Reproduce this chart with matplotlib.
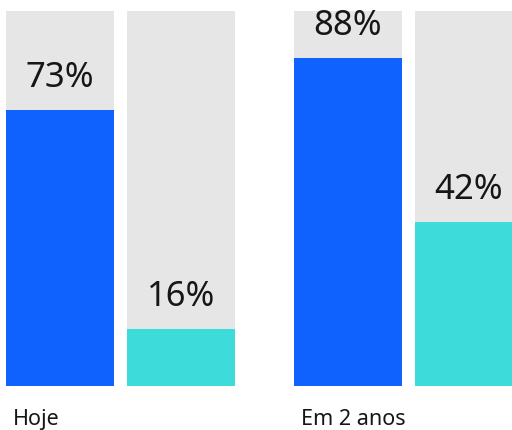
import matplotlib.pyplot as plt
from matplotlib.transforms import blended_transform_factory

# data
groups = ["Hoje", "Em 2 anos"]
series_a = [73.6, 87.5]   # blue bars
series_b = [15.2, 43.7]   # cyan bars
labels_a = ["73%", "88%"]
labels_b = ["16%", "42%"]

BLUE = "#0f62fe"
CYAN = "#3ddbd9"
GRAY = "#e6e6e6"
TEXT = "#161616"

plt.rcParams["font.family"] = ["Noto Sans", "DejaVu Sans"]

W, H = 512, 430
fig = plt.figure(figsize=(W / 100, H / 100), dpi=100)
# axes spans full width, bars from y=386px (bottom) to y=11px (top)
ax = fig.add_axes([0, 44 / H, 1, 375 / H])
ax.set_xlim(0, W)
ax.set_ylim(0, 100)
ax.axis("off")

bar_w = 108
inner_gap = 13
group_starts = [6, 294]

for gi, g in enumerate(groups):
    x0 = group_starts[gi]
    for bi, (vals, labs, col) in enumerate([(series_a, labels_a, BLUE),
                                            (series_b, labels_b, CYAN)]):
        left = x0 + bi * (bar_w + inner_gap)
        ax.bar(left, 100, width=bar_w, align="edge", color=GRAY, linewidth=0)
        ax.bar(left, vals[gi], width=bar_w, align="edge", color=col, linewidth=0)
        ax.annotate(labs[gi], (left + bar_w / 2, vals[gi]),
                    xytext=(0, 11), textcoords="offset points",
                    ha="center", va="bottom", fontsize=25, color=TEXT,
                    fontweight="light")
    trans = blended_transform_factory(ax.transData, fig.transFigure)
    ax.text(x0 + 7, 5 / H, g, transform=trans, ha="left", va="baseline",
            fontsize=15.5, color=TEXT, clip_on=False, fontweight="light")

fig.savefig("out.png", dpi=100)
